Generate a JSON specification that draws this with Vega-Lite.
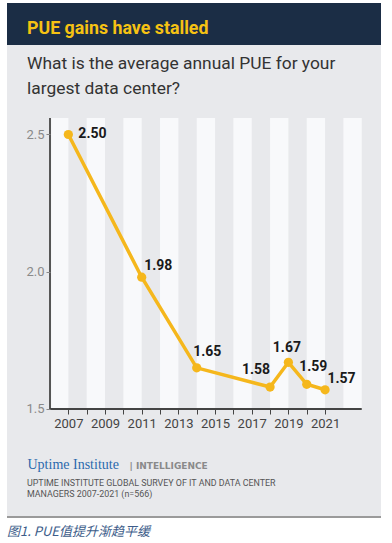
{
  "$schema": "https://vega.github.io/schema/vega-lite/v6.json",
  "background": "white",
  "padding": {"left": 7, "top": 3, "right": 0, "bottom": 0},
  "spacing": 0,
  "bounds": "flush",
  "config": {"view": {"stroke": null}, "font": "Roboto"},
  "title": {
    "text": "图1. PUE值提升渐趋平缓",
    "orient": "bottom",
    "anchor": "start",
    "frame": "group",
    "baseline": "alphabetic",
    "offset": 18,
    "font": "Noto Sans CJK SC",
    "fontStyle": "italic",
    "fontWeight": "normal",
    "fontSize": 13,
    "color": "#3d5d8a"
  },
  "vconcat": [
    {
      "width": 374,
      "height": 42,
      "view": {"fill": "#1b2d45", "stroke": null},
      "title": {
        "text": "PUE gains have stalled",
        "orient": "top",
        "anchor": "start",
        "frame": "group",
        "baseline": "alphabetic",
        "offset": -49,
        "dx": 20,
        "font": "Roboto",
        "fontSize": 17.8,
        "fontWeight": "bold",
        "color": "#f6c213"
      },
      "data": {"values": []},
      "mark": "rule",
      "encoding": {}
    },
    {
      "width": 374,
      "height": 471,
      "view": {"fill": "#e8e9ec", "stroke": null},
      "title": {
        "text": ["What is the average annual PUE for your", "largest data center?"],
        "orient": "top",
        "anchor": "start",
        "frame": "group",
        "baseline": "alphabetic",
        "offset": -66,
        "dx": 20,
        "lineHeight": 25,
        "font": "Roboto",
        "fontSize": 17.4,
        "fontWeight": "normal",
        "color": "#333333"
      },
      "resolve": {"axis": {"x": "independent", "y": "independent"}},
      "layer": [
        {
          "data": {"values": [
            {"start": 2006, "end": 2007},
            {"start": 2008, "end": 2009},
            {"start": 2010, "end": 2011},
            {"start": 2012, "end": 2013},
            {"start": 2014, "end": 2015},
            {"start": 2016, "end": 2017},
            {"start": 2018, "end": 2019},
            {"start": 2020, "end": 2021},
            {"start": 2022, "end": 2023}
          ]},
          "mark": {"type": "rect", "color": "#f8f9fb"},
          "encoding": {
            "x": {
              "field": "start", "type": "quantitative",
              "scale": {"domain": [2003.654, 2024.05], "nice": false, "zero": false},
              "axis": {
                "orient": "bottom", "offset": -107,
                "values": [2007, 2009, 2011, 2013, 2015, 2017, 2019, 2021],
                "format": "d",
                "domain": false, "grid": false,
                "tickSize": 5, "tickColor": "#444444",
                "labelFont": "Roboto", "labelFontSize": 13, "labelColor": "#444444",
                "labelPadding": 3,
                "title": null
              }
            },
            "x2": {"field": "end"},
            "y": {
              "datum": 1.5, "type": "quantitative",
              "scale": {"domain": [1.1102, 2.826], "nice": false, "zero": false},
              "axis": {
                "orient": "left", "offset": -43,
                "values": [1.5, 2.0, 2.5], "format": ".1f",
                "domain": false, "grid": false,
                "tickSize": 4, "tickColor": "#888888",
                "labelFont": "Roboto", "labelFontSize": 13, "labelColor": "#8a8a8a", "labelPadding": 2,
                "title": "Uptime Institute",
                "titleX": -23, "titleY": 423, "titleAngle": 0,
                "titleAlign": "left", "titleBaseline": "alphabetic",
                "titleFont": "Liberation Serif", "titleFontSize": 14, "titleFontWeight": "normal",
                "titleColor": "#2b69ad",
                "zindex": 1
              }
            },
            "y2": {"datum": 2.56}
          }
        },
        {
          "data": {"name": "pue"},
          "mark": {"type": "line", "color": "#f5b71c", "strokeWidth": 3.5},
          "encoding": {
            "x": {
              "field": "year", "type": "quantitative",
              "axis": {
                "orient": "bottom", "offset": -107,
                "values": [2008, 2010, 2012, 2014, 2016, 2018, 2020],
                "labels": false,
                "domain": false, "grid": false,
                "tickSize": 5, "tickColor": "#444444",
                "title": null
              }
            },
            "y": {
              "field": "pue", "type": "quantitative",
              "axis": {
                "orient": "right", "domain": false, "ticks": false, "labels": false, "grid": false,
                "title": "| INTELLIGENCE",
                "titleX": -252, "titleY": 423, "titleAngle": 0,
                "titleAlign": "left", "titleBaseline": "alphabetic",
                "titleFont": "DejaVu Sans", "titleFontSize": 9, "titleFontWeight": "bold",
                "titleColor": "#8a8a8a",
                "zindex": 1
              }
            }
          }
        },
        {
          "data": {"values": [{}]},
          "mark": {"type": "rule", "color": "#555555", "strokeWidth": 2},
          "encoding": {
            "x": {"datum": 2006, "type": "quantitative", "axis": null},
            "y": {"datum": 1.5, "type": "quantitative", "axis": null},
            "y2": {"datum": 2.56}
          }
        },
        {
          "data": {"values": [{}]},
          "mark": {"type": "rule", "color": "#444444", "strokeWidth": 2},
          "encoding": {
            "x": {"datum": 2006, "type": "quantitative", "axis": null},
            "x2": {"datum": 2023},
            "y": {"datum": 1.5, "type": "quantitative", "axis": null}
          }
        },
        {
          "data": {"name": "pue"},
          "mark": {"type": "point", "filled": true, "color": "#f5b71c", "size": 85, "opacity": 1},
          "encoding": {
            "x": {"field": "year", "type": "quantitative", "axis": null},
            "y": {"field": "pue", "type": "quantitative", "axis": null}
          }
        },
        {
          "data": {"name": "pue"},
          "transform": [{"filter": "datum.year == 2007"}],
          "mark": {"type": "text", "align": "left", "baseline": "middle", "dx": 10, "dy": 0, "font": "Roboto", "fontSize": 14, "fontWeight": "bold", "color": "#1a1a1a"},
          "encoding": {
            "x": {"field": "year", "type": "quantitative", "axis": null},
            "y": {"field": "pue", "type": "quantitative", "axis": null},
            "text": {"field": "pue", "type": "quantitative", "format": ".2f"}
          }
        },
        {
          "data": {"name": "pue"},
          "transform": [{"filter": "datum.year == 2011"}],
          "mark": {"type": "text", "align": "left", "baseline": "middle", "dx": 2.5, "dy": -11.5, "font": "Roboto", "fontSize": 14, "fontWeight": "bold", "color": "#1a1a1a"},
          "encoding": {
            "x": {"field": "year", "type": "quantitative", "axis": null},
            "y": {"field": "pue", "type": "quantitative", "axis": null},
            "text": {"field": "pue", "type": "quantitative", "format": ".2f"}
          }
        },
        {
          "data": {"name": "pue"},
          "transform": [{"filter": "datum.year == 2014"}],
          "mark": {"type": "text", "align": "center", "baseline": "middle", "dx": 10.5, "dy": -16, "font": "Roboto", "fontSize": 14, "fontWeight": "bold", "color": "#1a1a1a"},
          "encoding": {
            "x": {"field": "year", "type": "quantitative", "axis": null},
            "y": {"field": "pue", "type": "quantitative", "axis": null},
            "text": {"field": "pue", "type": "quantitative", "format": ".2f"}
          }
        },
        {
          "data": {"name": "pue"},
          "transform": [{"filter": "datum.year == 2018"}],
          "mark": {"type": "text", "align": "center", "baseline": "middle", "dx": -14, "dy": -17, "font": "Roboto", "fontSize": 14, "fontWeight": "bold", "color": "#1a1a1a"},
          "encoding": {
            "x": {"field": "year", "type": "quantitative", "axis": null},
            "y": {"field": "pue", "type": "quantitative", "axis": null},
            "text": {"field": "pue", "type": "quantitative", "format": ".2f"}
          }
        },
        {
          "data": {"name": "pue"},
          "transform": [{"filter": "datum.year == 2019"}],
          "mark": {"type": "text", "align": "center", "baseline": "middle", "dx": -1.5, "dy": -14, "font": "Roboto", "fontSize": 14, "fontWeight": "bold", "color": "#1a1a1a"},
          "encoding": {
            "x": {"field": "year", "type": "quantitative", "axis": null},
            "y": {"field": "pue", "type": "quantitative", "axis": null},
            "text": {"field": "pue", "type": "quantitative", "format": ".2f"}
          }
        },
        {
          "data": {"name": "pue"},
          "transform": [{"filter": "datum.year == 2020"}],
          "mark": {"type": "text", "align": "center", "baseline": "middle", "dx": 6.5, "dy": -17.5, "font": "Roboto", "fontSize": 14, "fontWeight": "bold", "color": "#1a1a1a"},
          "encoding": {
            "x": {"field": "year", "type": "quantitative", "axis": null},
            "y": {"field": "pue", "type": "quantitative", "axis": null},
            "text": {"field": "pue", "type": "quantitative", "format": ".2f"}
          }
        },
        {
          "data": {"name": "pue"},
          "transform": [{"filter": "datum.year == 2021"}],
          "mark": {"type": "text", "align": "center", "baseline": "middle", "dx": 16.5, "dy": -10.5, "font": "Roboto", "fontSize": 14, "fontWeight": "bold", "color": "#1a1a1a"},
          "encoding": {
            "x": {"field": "year", "type": "quantitative", "axis": null},
            "y": {"field": "pue", "type": "quantitative", "axis": null},
            "text": {"field": "pue", "type": "quantitative", "format": ".2f"}
          }
        }
      ]
    },
    {
      "width": 374,
      "height": 2,
      "view": {"fill": "#9a9a9a", "stroke": null},
      "title": {
        "text": ["UPTIME INSTITUTE GLOBAL SURVEY OF IT AND DATA CENTER", "MANAGERS 2007-2021 (n=566)"],
        "orient": "top",
        "anchor": "start",
        "frame": "group",
        "baseline": "alphabetic",
        "offset": 10,
        "dx": 20,
        "lineHeight": 11.4,
        "font": "Roboto",
        "fontSize": 8.9,
        "fontWeight": "normal",
        "color": "#555555"
      },
      "data": {"values": []},
      "mark": "rule",
      "encoding": {}
    }
  ],
  "datasets": {
    "pue": [
      {"year": 2007, "pue": 2.50},
      {"year": 2011, "pue": 1.98},
      {"year": 2014, "pue": 1.65},
      {"year": 2018, "pue": 1.58},
      {"year": 2019, "pue": 1.67},
      {"year": 2020, "pue": 1.59},
      {"year": 2021, "pue": 1.57}
    ]
  }
}
